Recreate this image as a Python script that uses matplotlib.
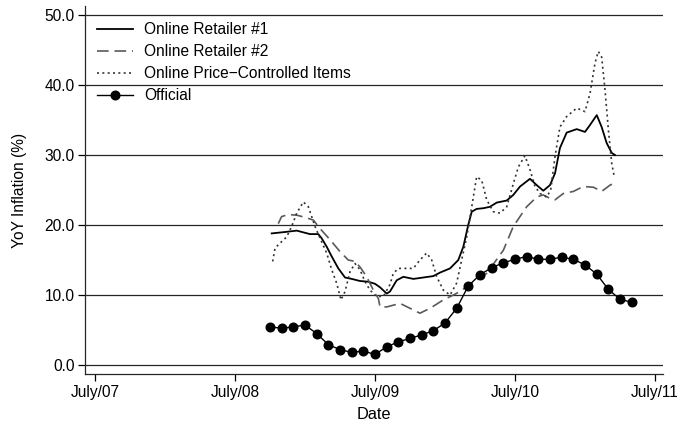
import matplotlib
matplotlib.use("Agg")
import matplotlib.pyplot as plt
import numpy as np

plt.rcParams['font.family'] = ['Liberation Sans', 'DejaVu Sans']

# Online Retailer #1 (decimal year, YoY %)
r1_x = [2008.762, 2008.857, 2008.941, 2008.988, 2009.036, 2009.095, 2009.119, 2009.155,
        2009.191, 2009.238, 2009.286, 2009.334, 2009.393, 2009.452, 2009.500, 2009.536,
        2009.584, 2009.607, 2009.655, 2009.702, 2009.774, 2009.845, 2009.916, 2009.964,
        2010.036, 2010.095, 2010.131, 2010.166, 2010.191, 2010.226, 2010.274, 2010.321,
        2010.369, 2010.441, 2010.488, 2010.536, 2010.607, 2010.655, 2010.702, 2010.750,
        2010.786, 2010.821, 2010.869, 2010.941, 2011.000, 2011.036, 2011.084, 2011.119,
        2011.155, 2011.191, 2011.214]
r1_y = [18.8, 19.0, 19.2, 18.95, 18.7, 18.7, 18.1, 16.9,
        15.5, 13.8, 12.5, 12.3, 12.0, 11.9, 11.6, 11.1,
        10.2, 10.5, 12.1, 12.6, 12.3, 12.5, 12.7, 13.2,
        13.8, 15.0, 16.9, 20.0, 21.9, 22.3, 22.4, 22.6,
        23.2, 23.5, 24.3, 25.5, 26.6, 25.7, 24.9, 25.7,
        27.4, 31.0, 33.2, 33.7, 33.3, 34.3, 35.7, 34.0,
        31.7, 30.3, 30.0]

# Online Retailer #2
r2_x = [2008.809, 2008.833, 2008.880, 2008.941, 2009.000, 2009.060, 2009.107, 2009.179,
        2009.250, 2009.309, 2009.357, 2009.393, 2009.441, 2009.488, 2009.524, 2009.536,
        2009.584, 2009.679, 2009.750, 2009.821, 2009.893, 2009.988, 2010.060, 2010.107,
        2010.155, 2010.226, 2010.298, 2010.417, 2010.488, 2010.583, 2010.655, 2010.702,
        2010.750, 2010.786, 2010.845, 2010.917, 2010.988, 2011.060, 2011.119, 2011.179,
        2011.202]
r2_y = [20.2, 21.2, 21.5, 21.4, 21.1, 20.7, 19.5, 17.9,
        16.2, 15.0, 14.8, 14.0, 12.6, 10.7, 9.5, 8.3,
        8.3, 8.8, 8.1, 7.4, 8.1, 9.3, 10.0, 10.5,
        11.2, 12.1, 13.1, 16.4, 19.8, 22.6, 24.0, 24.3,
        23.8, 23.6, 24.5, 24.8, 25.5, 25.4, 24.8, 25.7,
        25.9]

# Online Price-Controlled Items
pc_x = [2008.769, 2008.786, 2008.821, 2008.869, 2008.905, 2008.941, 2008.988, 2009.024,
        2009.048, 2009.071, 2009.119, 2009.155, 2009.191, 2009.226, 2009.257, 2009.286,
        2009.321, 2009.357, 2009.393, 2009.429, 2009.464, 2009.512, 2009.560, 2009.607,
        2009.631, 2009.667, 2009.774, 2009.821, 2009.869, 2009.905, 2009.941, 2009.988,
        2010.036, 2010.083, 2010.119, 2010.155, 2010.191, 2010.226, 2010.262, 2010.298,
        2010.345, 2010.393, 2010.441, 2010.488, 2010.524, 2010.571, 2010.607, 2010.643,
        2010.679, 2010.726, 2010.755, 2010.786, 2010.821, 2010.869, 2010.941, 2011.000,
        2011.036, 2011.071, 2011.095, 2011.119, 2011.143, 2011.167, 2011.191, 2011.209]
pc_y = [14.8, 16.7, 17.4, 18.3, 19.8, 21.7, 23.3, 22.6,
        21.2, 19.8, 17.6, 16.0, 13.6, 11.7, 9.3, 10.5,
        13.3, 14.5, 13.6, 11.9, 10.7, 9.8, 9.8, 11.5,
        13.1, 13.8, 13.8, 15.0, 16.0, 15.0, 12.6, 10.7,
        10.0, 11.7, 15.0, 18.3, 22.6, 26.9, 26.4, 23.6,
        21.9, 21.7, 22.6, 25.9, 28.3, 29.9, 27.9, 25.5,
        24.5, 24.0, 25.0, 29.8, 34.0, 35.5, 36.7, 36.2,
        38.8, 43.1, 44.8, 44.0, 39.3, 33.6, 28.8, 26.9]

# Official (monthly, Oct 2008 - May 2011)
off_start = 2008.75
off_y = [5.45, 5.25, 5.45, 5.7, 4.5, 2.9, 2.2, 1.8, 2.0, 1.5,
         2.6, 3.3, 3.8, 4.3, 4.9, 6.0, 8.1, 11.3, 12.9, 13.9,
         14.6, 15.1, 15.5, 15.1, 15.1, 15.4, 15.1, 14.3, 13.0, 10.8,
         9.4, 8.95]
off_x = [off_start + i / 12 for i in range(len(off_y))]

xtick_pos = [2007.5, 2008.5, 2009.5, 2010.5, 2011.5]
xtick_labels = ["July/07", "July/08", "July/09", "July/10", "July/11"]
ytick_pos = [0, 10, 20, 30, 40, 50]

FS = 11.2

fig = plt.figure(figsize=(6.78, 4.25), dpi=100)
ax = fig.add_axes([85 / 678, 1 - 374 / 425, (662.7 - 85) / 678, (374 - 6) / 425])

for y in ytick_pos:
    ax.axhline(y, color='#262626', lw=0.9, zorder=1)

ax.plot(r1_x, r1_y, color='black', lw=1.3, ls='-', label='Online Retailer #1', zorder=3)
ax.plot(r2_x, r2_y, color='#5a5a5a', lw=1.2, ls=(0, (7, 3.5)), label='Online Retailer #2', zorder=3)
ax.plot(pc_x, pc_y, color='#333333', lw=1.2, ls=(0, (1.2, 2)), label='Online Price\u2212Controlled Items', zorder=3)
ax.plot(off_x, off_y, color='black', lw=1.0, marker='o', markersize=6.2, label='Official', zorder=4)

ax.set_xlim(2007.4286, 2011.555)
ax.set_ylim(-1.286, 51.29)
ax.set_xticks(xtick_pos)
ax.set_xticklabels(xtick_labels)
ax.set_yticks(ytick_pos)
ax.set_yticklabels([f"{v:.1f}" for v in ytick_pos])
ax.tick_params(axis='both', direction='out', length=5, width=0.9, labelsize=FS, colors='black')
ax.tick_params(axis='y', pad=2.5)
ax.tick_params(axis='x', pad=3)
for s in ['top', 'right']:
    ax.spines[s].set_visible(False)
for s in ['left', 'bottom']:
    ax.spines[s].set_linewidth(0.9)
    ax.spines[s].set_color('#262626')

ax.set_xlabel("Date", fontsize=11.8)
ax.set_ylabel("YoY Inflation (%)", fontsize=FS)
ax.xaxis.set_label_coords(0.5, -0.09)
ax.yaxis.set_label_coords(-0.10, 0.5)

leg = ax.legend(loc='upper left', bbox_to_anchor=(0.0, 0.99), frameon=False, fontsize=FS,
                handlelength=2.3, handletextpad=0.7, labelspacing=0.45, borderaxespad=0.4)

fig.savefig("out.png", dpi=100)
